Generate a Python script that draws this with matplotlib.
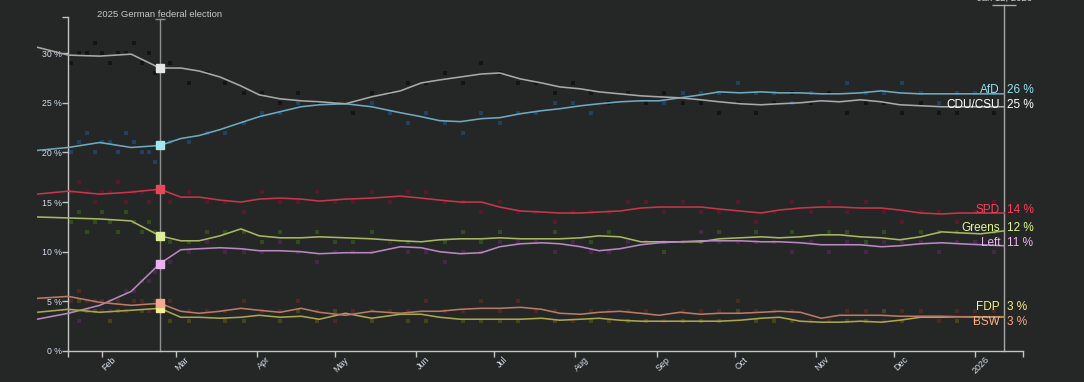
#!/usr/bin/env python3
import matplotlib.pyplot as plt
import matplotlib.dates as mdates
import matplotlib.transforms as mtransforms
import numpy as np
import pandas as pd

plt.rcParams['font.family'] = ['Liberation Sans', 'DejaVu Sans']

START = pd.Timestamp('2025-01-01')

# Smoothed polling average (day offset from Jan 1 2025, percent)
trend_day = [6, 18, 30, 42, 53, 61, 68, 76, 84, 91, 99, 107, 114, 124, 134, 145,
             153, 160, 168, 176, 183, 191, 199, 206, 214, 221, 229, 237, 244, 252,
             260, 267, 275, 283, 290, 298, 306, 313, 321, 329, 336, 344, 352, 359,
             367, 376]
cdu_trend = [30.6, 29.8, 29.7, 29.9, 28.5, 28.5, 28.2, 27.6, 26.7, 25.8, 25.4, 25.2,
             25.1, 24.9, 25.6, 26.2, 27.0, 27.3, 27.6, 27.9, 28.0, 27.4, 27.0, 26.6,
             26.4, 26.1, 25.9, 25.7, 25.6, 25.5, 25.3, 25.1, 24.9, 24.8, 24.9, 25.0,
             25.2, 25.1, 25.3, 25.1, 24.8, 24.7, 24.6, 24.6, 24.6, 24.6]
afd_trend = [20.2, 20.5, 21.0, 20.5, 20.7, 21.4, 21.7, 22.3, 23.0, 23.6, 24.1, 24.6,
             24.8, 24.9, 24.6, 24.0, 23.6, 23.2, 23.1, 23.4, 23.5, 23.9, 24.2, 24.4,
             24.7, 24.9, 25.1, 25.2, 25.2, 25.5, 25.8, 26.1, 26.0, 26.1, 26.0, 26.0,
             25.9, 25.9, 26.0, 26.2, 26.0, 25.9, 25.9, 25.9, 25.9, 25.9]
spd_trend = [15.8, 16.1, 15.8, 16.0, 16.3, 15.5, 15.5, 15.2, 15.0, 15.3, 15.4, 15.3,
             15.1, 15.3, 15.4, 15.6, 15.4, 15.2, 15.0, 15.0, 14.5, 14.1, 14.0, 13.9,
             13.9, 14.0, 14.1, 14.4, 14.5, 14.5, 14.5, 14.3, 14.1, 13.9, 14.2, 14.4,
             14.5, 14.5, 14.4, 14.4, 14.2, 13.9, 13.8, 13.9, 13.9, 13.9]
greens_trend = [13.5, 13.4, 13.3, 13.1, 11.6, 11.1, 11.1, 11.6, 12.3, 11.6, 11.4, 11.4,
                11.5, 11.4, 11.3, 11.1, 11.0, 11.2, 11.3, 11.3, 11.4, 11.3, 11.3, 11.3,
                11.4, 11.6, 11.5, 11.0, 11.0, 11.0, 11.0, 11.3, 11.4, 11.5, 11.4, 11.5,
                11.7, 11.7, 11.5, 11.4, 11.2, 11.5, 12.0, 11.9, 11.8, 12.1]
left_trend = [3.2, 3.8, 4.6, 6.0, 8.8, 10.2, 10.3, 10.4, 10.3, 10.1, 10.1, 10.0,
              9.8, 9.9, 9.9, 10.5, 10.4, 10.0, 9.8, 9.9, 10.5, 10.8, 10.9, 10.8,
              10.5, 10.1, 10.3, 10.7, 10.9, 11.0, 11.1, 11.1, 11.1, 11.0, 11.0, 10.9,
              10.7, 10.7, 10.7, 10.5, 10.6, 10.8, 10.9, 10.8, 10.7, 10.6]
fdp_trend = [3.9, 4.2, 3.9, 4.1, 4.3, 3.4, 3.4, 3.3, 3.4, 3.6, 3.4, 3.5,
             3.2, 3.8, 3.3, 3.7, 3.7, 3.4, 3.2, 3.2, 3.2, 3.2, 3.3, 3.1,
             3.2, 3.3, 3.1, 3.0, 3.0, 3.0, 3.0, 3.0, 3.1, 3.3, 3.4, 3.0,
             2.9, 2.9, 3.0, 2.9, 3.1, 3.4, 3.4, 3.45, 3.45, 3.45]
bsw_trend = [5.3, 5.5, 4.9, 4.6, 4.8, 4.0, 3.8, 4.0, 4.3, 4.1, 3.9, 4.3,
             3.9, 3.6, 4.0, 3.8, 4.0, 4.0, 4.2, 4.3, 4.3, 4.4, 4.2, 3.8,
             3.7, 3.9, 4.0, 3.8, 3.6, 3.9, 3.7, 3.8, 3.8, 3.9, 4.0, 3.9,
             3.3, 3.6, 3.6, 3.6, 3.5, 3.5, 3.5, 3.45, 3.4, 3.4]

# Individual polls (day offset, percent)
poll_day = [19, 22, 25, 28, 31, 34, 37, 40, 43, 46, 49, 51, 57, 64, 71, 78, 85, 92,
            99, 106, 113, 120, 127, 134, 141, 148, 155, 162, 169, 176, 183, 190, 197,
            204, 211, 218, 225, 232, 239, 246, 253, 260, 267, 274, 281, 288, 295, 302,
            309, 316, 323, 330, 337, 344, 351, 358, 365, 372]
cdu_poll = [29, 30, 30, 31, 30, 29, 30, 30, 31, 29, 30, 28,
            29, 27, 28, 27, 26, 26, 25, 26, 25, 25, 24, 26, 26, 27, 27, 28, 27, 29,
            28, 27, 27, 26, 27, 26, 25, 26, 25, 26, 25, 25, 24, 25, 24, 25, 26, 25,
            26, 24, 25, 25, 24, 25, 24, 24, 25, 24]
afd_poll = [20, 21, 22, 20, 21, 21, 20, 22, 21, 20, 20, 19,
            21, 21, 22, 22, 23, 24, 24, 25, 25, 25, 24, 25, 24, 23, 24, 23, 22, 24,
            23, 24, 24, 25, 25, 24, 25, 26, 25, 25, 26, 26, 26, 27, 26, 26, 25, 26,
            26, 27, 26, 26, 27, 26, 25, 26, 26, 26]
spd_poll = [16, 17, 16, 15, 16, 16, 17, 15, 16, 16, 15, 16,
            15, 16, 15, 15, 14, 16, 15, 15, 16, 15, 15, 16, 15, 16, 16, 15, 15, 14,
            15, 14, 14, 13, 14, 14, 14, 15, 15, 14, 15, 14, 14, 15, 13, 14, 15, 14,
            15, 14, 15, 14, 13, 14, 14, 13, 14, 15]
greens_poll = [13, 14, 12, 13, 14, 13, 12, 14, 13, 12, 13, 12,
               11, 11, 12, 12, 12, 11, 12, 11, 12, 11, 11, 12, 11, 11, 10, 11, 12, 11,
               12, 11, 11, 12, 11, 11, 12, 11, 11, 10, 11, 11, 12, 11, 12, 11, 12, 11,
               12, 12, 11, 12, 11, 12, 12, 12, 11, 12]
left_poll = [4, 3, 4, 4, 5, 4, 5, 6, 6, 7, 7, 8,
             9, 10, 11, 10, 10, 10, 11, 10, 9, 10, 10, 10, 11, 10, 10, 9, 10, 10,
             11, 11, 11, 10, 11, 10, 10, 11, 11, 11, 11, 12, 11, 11, 11, 11, 10, 11,
             10, 11, 10, 11, 11, 11, 10, 11, 11, 10]
fdp_poll = [4, 5, 4, 4, 4, 3, 4, 4, 5, 4, 4, 5,
            3, 3, 4, 3, 3, 4, 3, 4, 3, 4, 4, 3, 4, 3, 3, 4, 3, 3,
            3, 3, 4, 3, 3, 3, 3, 3, 3, 3, 3, 3, 3, 4, 3, 3, 3, 3,
            3, 3, 3, 4, 3, 4, 3, 3, 3, 3]
bsw_poll = [5, 6, 5, 5, 4, 5, 5, 4, 5, 5, 4, 5,
            5, 4, 4, 4, 5, 4, 4, 5, 4, 3, 4, 4, 4, 4, 5, 4, 4, 5,
            4, 5, 4, 4, 3, 4, 4, 4, 4, 3, 4, 4, 4, 5, 4, 4, 4, 3,
            3, 4, 4, 3, 4, 4, 3, 4, 4, 4]

parties = ['AfD', 'CDU/CSU', 'SPD', 'Greens', 'Left', 'FDP', 'BSW']
trends = [afd_trend, cdu_trend, spd_trend, greens_trend, left_trend, fdp_trend, bsw_trend]
polls = [afd_poll, cdu_poll, spd_poll, greens_poll, left_poll, fdp_poll, bsw_poll]

election_day = 53      # Feb 23 2025
latest_day = 376       # Jan 12 2026

line_colors = ['#6fa9bf', '#a9a9a9', '#c8364d', '#a7b862', '#b888c2', '#aaa64c', '#b97b63']
dot_colors = ['#22405f', '#141414', '#561a29', '#324b1e', '#452847', '#46441f', '#4a2a23']
mark_colors = ['#a4e6ee', '#e6e6e6', '#e8485c', '#dcee9c', '#eab2ee', '#f2ee92', '#f2aa90']
label_colors = ['#8fe5f2', '#ffffff', '#ff3d5b', '#e2f892', '#f2b2f2', '#faf282', '#faaa8a']

BG = '#252626'
AXIS = '#c4c4c4'
TICKTXT = '#d4e0ec'


def to_date(days):
    return START + pd.to_timedelta(np.asarray(days), unit='D')


def spread_labels(values, gap):
    pos = np.array(values, dtype=float)
    order = np.argsort(-pos, kind='stable')
    for _ in range(300):
        moved = False
        for a, b in zip(order[:-1], order[1:]):
            d = pos[a] - pos[b]
            if d < gap - 1e-6:
                s = (gap - d) / 2
                pos[a] += s
                pos[b] -= s
                moved = True
        if not moved:
            break
    return pos


fig = plt.figure(figsize=(10.84, 3.82), dpi=100, facecolor=BG)
ax = fig.add_axes([37 / 1084, 31 / 382, 985.5 / 1084, 334 / 382])
ax.set_facecolor(BG)

tdates = to_date(trend_day)
pdates = to_date(poll_day)

for i, name in enumerate(parties):
    ax.scatter(pdates, polls[i], s=5, marker='s', color=dot_colors[i],
               linewidths=0, zorder=2)
k = trend_day.index(election_day)
for i, name in enumerate(parties):
    ax.plot(tdates, trends[i], color=line_colors[i], lw=1.15, zorder=3,
            solid_joinstyle='round')
    ax.plot(tdates[k], trends[i][k], marker='s', ms=5.3, color=mark_colors[i],
            mec=mark_colors[i], zorder=5)

x_left = mdates.date2num(START + pd.Timedelta(days=18))
x_right = mdates.date2num(START + pd.Timedelta(days=383))
ax.set_xlim(mdates.date2num(START + pd.Timedelta(days=6)), x_right)
ax.set_ylim(0, 33.64)

# spines
for s in ['top', 'right']:
    ax.spines[s].set_visible(False)
ax.spines['left'].set_position(('data', x_left))
ax.spines['bottom'].set_bounds(x_left, x_right)
for s in ['left', 'bottom']:
    ax.spines[s].set_color(AXIS)
    ax.spines[s].set_linewidth(1)

# y ticks
yt = [0, 5, 10, 15, 20, 25, 30]
ax.set_yticks(yt)
ax.set_yticklabels([f'{v} %' for v in yt])
ax.set_yticks([33.64], minor=True)
ax.tick_params(axis='y', which='both', direction='out', length=4, width=1,
               color=AXIS, labelcolor=TICKTXT, labelsize=6.3, pad=1)

# x ticks at month starts
months = pd.date_range('2025-02-01', '2026-01-01', freq='MS')
ax.set_xticks(mdates.date2num(months))
ax.set_xticklabels([m.strftime('%b') if m.month != 1 else str(m.year) for m in months])
ax.set_xticks([x_left, x_right], minor=True)
ax.tick_params(axis='x', which='both', direction='out', length=4, width=1,
               color=AXIS, labelcolor=TICKTXT, labelsize=6.5, pad=1)
offset = mtransforms.ScaledTranslation(6.5 / 72, 2 / 72, fig.dpi_scale_trans)
for lab in ax.get_xticklabels():
    lab.set_rotation(45)
    lab.set_ha('right')
    lab.set_va('top')
    lab.set_rotation_mode('anchor')
    lab.set_transform(lab.get_transform() + offset)

# marker lines
bt = mtransforms.blended_transform_factory(ax.transData, ax.transAxes)
ed = mdates.date2num(START + pd.Timedelta(days=election_day))
ld = mdates.date2num(START + pd.Timedelta(days=latest_day))
ax.plot([ed, ed], [0, 0.995], transform=bt, color='#8e8e8e', lw=1, clip_on=False, zorder=1)
ax.plot([ed], [0.995], transform=bt, marker='_', ms=6.5, mew=1, color='#8e8e8e', clip_on=False)
ax.text(ed, 1.006, '2025 German federal election', transform=bt, ha='center', va='center',
        color='#c8c8c8', fontsize=6.8)
ax.plot([ld, ld], [0, 1.036], transform=bt, color='#a8a8a8', lw=1, clip_on=False, zorder=1)
ax.plot([ld], [1.036], transform=bt, marker='_', ms=17, mew=1, color='#a8a8a8', clip_on=False)
ax.text(ld, 1.057, 'Jan 12, 2026', transform=bt, ha='center', va='center',
        color='#d0d0d0', fontsize=6.8)

# end labels
last = [t[-1] for t in trends]
label_y = spread_labels(last, 1.55)
for i, name in enumerate(parties):
    ax.annotate(name, (ld, label_y[i]), xytext=(-3, 2), textcoords='offset points',
                ha='right', va='center', color=label_colors[i], fontsize=8.5,
                annotation_clip=False)
    ax.annotate(f'{round(last[i])} %', (ld, label_y[i]), xytext=(2.3, 2),
                textcoords='offset points', ha='left', va='center',
                color=label_colors[i], fontsize=8.5, annotation_clip=False)

fig.savefig('out.png', dpi=100, facecolor=BG)
